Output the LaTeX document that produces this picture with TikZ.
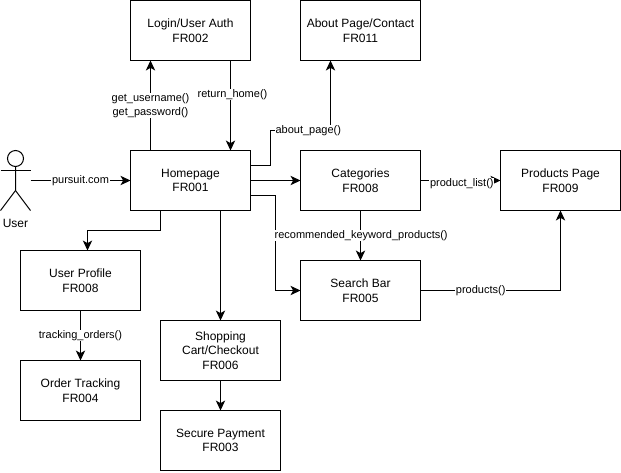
\documentclass[tikz,border=0pt]{standalone}
\usepackage{fontspec}
\setmainfont{Liberation Sans}
\usetikzlibrary{arrows.meta}
\tikzset{
	pagebox/.style={draw, line width=0.75pt, minimum width=90pt, minimum height=45pt, inner sep=0pt, outer sep=0pt, align=center, font=\fontsize{9}{11}\selectfont},
	flow/.style={draw, line width=0.75pt, -{Stealth[length=7.5pt, width=7pt, inset=2pt]}},
	plainline/.style={draw, line width=0.75pt},
	call/.style={fill=white, inner sep=0.6pt, align=center, font=\fontsize{8.25}{10.5}\selectfont}
}
\begin{document}
\begin{tikzpicture}[x=0.75pt, y=-0.75pt]
	\useasboundingbox (0, 0) rectangle (621, 472);
	\begin{scope}[xshift=0.375pt, yshift=-0.375pt]
		\node[pagebox] (login) at (190, 30) {Login/User Auth\\FR002};
		\node[pagebox] (about) at (360, 30) {About Page/Contact\\FR011};
		\node[pagebox] (home) at (190, 180) {Homepage\\FR001};
		\node[pagebox] (categories) at (360, 180) {Categories\\FR008};
		\node[pagebox] (products) at (560, 180) {Products Page\\FR009};
		\node[pagebox] (search) at (360, 290) {Search Bar\\FR005};
		\node[pagebox] (profile) at (80, 280) {User Profile\\FR008};
		\node[pagebox] (tracking) at (80, 390) {Order Tracking\\FR004};
		\node[pagebox] (cart) at (220, 350) {Shopping\\Cart/Checkout\\FR006};
		\node[pagebox] (payment) at (220, 440) {Secure Payment\\FR003};

		% stick figure
		\node[minimum width=22.5pt, minimum height=45pt, inner sep=0pt, outer sep=0pt] (user) at (15, 180) {};
		\draw[plainline] (15, 158) circle (8);
		\draw[plainline] (15, 166) -- (15, 190) -- (0, 210);
		\draw[plainline] (15, 190) -- (30, 210);
		\draw[plainline] (0, 170) -- (30, 170);
		\node[font=\fontsize{9}{11}\selectfont] (userlabel) at (15, 223) {User};

		\draw[flow] (user.east) -- node[call] {pursuit.com} (home.west);
		\draw[flow] ([xshift=15pt]home.north west) -- node[call, pos=0.5] {get\_username()\\get\_password()} ([xshift=15pt]login.south west);
		\draw[flow] ([xshift=75pt]login.south west) -- node[call, pos=0.37, xshift=1.5pt, yshift=-0.5pt] {return\_home()} ([xshift=75pt]home.north west);
		\draw[flow] ([yshift=11.25pt]home.east) -| (270, 130) -- node[call, pos=0.63] {about\_page()} (330, 130) -- ([xshift=-22.5pt]about.south);
		\draw[flow] (home.east) -- (categories.west);
		\draw[flow] ([yshift=-11.25pt]home.east) -| (275, 290) -- (search.west);
		\draw[flow] (categories.south) -- node[call, xshift=0.5pt] {recommended\_keyword\_products()} (search.north);
		\draw[flow] (categories.east) -- node[call, yshift=-2.5pt, xshift=1pt] {product\_list()} (products.west);
		\draw[flow] (search.east) -- node[call, pos=0.43] {products()} (560, 290) -- (products.south);
		\draw[flow] ([xshift=22.5pt]home.south west) -- (160, 230) -- (87, 230) -- ([xshift=5.25pt]profile.north);
		\draw[flow] ([xshift=67.5pt]home.south west) -- (cart.north);
		\draw[flow] (cart.south) -- (payment.north);
		\draw[flow] (profile.south) -- node[call] {tracking\_orders()} (tracking.north);
	\end{scope}
\end{tikzpicture}
\end{document}
